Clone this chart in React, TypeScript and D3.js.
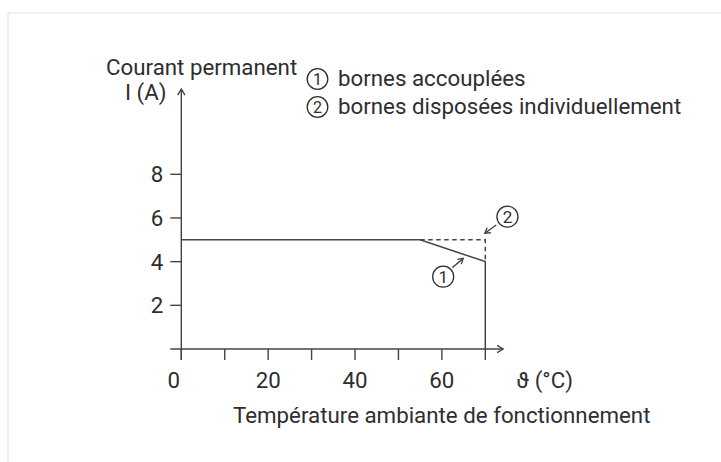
import React from "react";
import * as d3 from "d3";

// ---- data ----
const solidTemps = [0, 55, 70, 70];
const solidCurrents = [5, 5, 4, 0];
const dashedTemps = [55, 70, 70];
const dashedCurrents = [5, 5, 4];
const xMajorTicks = [0, 20, 40, 60];
const xMinorTicks = [10, 30, 50, 70];
const yTicks = [2, 4, 6, 8];
const yAxisTitle = ["Courant permanent", "I (A)"];
const xUnitLabel = "ϑ (°C)";
const xAxisTitle = "Température ambiante de fonctionnement";
const legendNumbers = ["1", "2"];
const legendLabels = ["bornes accouplées", "bornes disposées individuellement"];
// annotation: circle position and arrow from -> to (data units)
const annotNumbers = ["1", "2"];
const annotCircle = [[60.3, 3.31], [75.1, 6.06]];
const annotArrowFrom = [[62.4, 3.72], [72.5, 5.68]];
const annotArrowTo = [[64.9, 4.15], [69.9, 5.3]];

const W = 721;
const H = 462;
const FONT = "Roboto, 'Liberation Sans', Arial, sans-serif";
const TXT = "#2e2e2e";
const LN = "#444";
const FS = 22.3;

export default function App() {
  const x = d3.scaleLinear().domain([0, 70]).range([181.3, 485.3]);
  const y = d3.scaleLinear().domain([0, 8]).range([349, 174.3]);

  const line = d3
    .line<[number, number]>()
    .x((d) => x(d[0]))
    .y((d) => y(d[1]));

  const solid = solidTemps.map((t, i) => [t, solidCurrents[i]] as [number, number]);
  const dashed = dashedTemps.map((t, i) => [t, dashedCurrents[i]] as [number, number]);

  const x0 = x(0);
  const y0 = y(0);
  const xAxisEnd = x(74.1);
  const yAxisEnd = y(11.9);

  const chevron = (tx: number, ty: number, angle: number, size = 7) => {
    const a1 = angle + Math.PI - 0.55;
    const a2 = angle + Math.PI + 0.55;
    return `M${tx + size * Math.cos(a1)},${ty + size * Math.sin(a1)}L${tx},${ty}L${tx + size * Math.cos(a2)},${ty + size * Math.sin(a2)}`;
  };

  return (
    <svg
      width={W}
      height={H}
      style={{ position: "absolute", left: 0, top: 0, background: "#fff" }}
      fontFamily={FONT}
    >
      <rect x={8} y={13} width={740} height={470} fill="#fff" stroke="#ececec" strokeWidth={1.5} />

      {/* axes */}
      <line x1={x0 - 11} y1={y0} x2={xAxisEnd} y2={y0} stroke={LN} strokeWidth={1.4} />
      <path d={chevron(xAxisEnd, y0, 0)} fill="none" stroke={LN} strokeWidth={1.4} />
      <line x1={x0} y1={y0 + 11} x2={x0} y2={yAxisEnd} stroke={LN} strokeWidth={1.4} />
      <path d={chevron(x0, yAxisEnd, -Math.PI / 2)} fill="none" stroke={LN} strokeWidth={1.4} />

      {/* x ticks */}
      {[...xMajorTicks, ...xMinorTicks].map((t) => (
        <line key={"xt" + t} x1={x(t)} x2={x(t)} y1={y0} y2={y0 + 11} stroke={LN} strokeWidth={1.4} />
      ))}
      {xMajorTicks.map((t) => (
        <text
          key={"xl" + t}
          x={t === 0 ? x(t) - 7.5 : x(t)}
          y={388}
          textAnchor="middle"
          fontSize={FS}
          fill={TXT}
        >
          {t}
        </text>
      ))}
      <text x={x(0) + 335} y={388} fontSize={FS} fill={TXT}>
        {xUnitLabel}
      </text>

      {/* y ticks */}
      {yTicks.map((t) => (
        <g key={"yt" + t}>
          <line x1={x0 - 11} x2={x0} y1={y(t)} y2={y(t)} stroke={LN} strokeWidth={1.4} />
          <text x={x0 - 18} y={y(t) + 8} textAnchor="end" fontSize={FS} fill={TXT}>
            {t}
          </text>
        </g>
      ))}

      {/* axis titles */}
      <text x={106} y={75} fontSize={FS} fill={TXT}>
        {yAxisTitle[0]}
      </text>
      <text x={125} y={100} fontSize={FS} fill={TXT}>
        {yAxisTitle[1]}
      </text>
      <text x={233} y={423} fontSize={FS} fill={TXT}>
        {xAxisTitle}
      </text>

      {/* legend */}
      {legendLabels.map((lab, i) => {
        const base = 86 + i * 28;
        return (
          <g key={"lg" + i}>
            <circle cx={317.5} cy={base - 7} r={10.3} fill="none" stroke={TXT} strokeWidth={1.3} />
            <text x={317.5} y={base - 1.3} textAnchor="middle" fontSize={16} fill={TXT}>
              {legendNumbers[i]}
            </text>
            <text x={338} y={base} fontSize={FS} fill={TXT}>
              {lab}
            </text>
          </g>
        );
      })}

      {/* data lines */}
      <path d={line(dashed) || ""} fill="none" stroke={LN} strokeWidth={1.5} strokeDasharray="4.5,3.5" />
      <path d={line(solid) || ""} fill="none" stroke={LN} strokeWidth={1.5} />

      {/* annotations */}
      {annotNumbers.map((n, i) => {
        const cx = x(annotCircle[i][0]);
        const cy = y(annotCircle[i][1]);
        const fx = x(annotArrowFrom[i][0]);
        const fy = y(annotArrowFrom[i][1]);
        const tx = x(annotArrowTo[i][0]);
        const ty = y(annotArrowTo[i][1]);
        const ang = Math.atan2(ty - fy, tx - fx);
        return (
          <g key={"an" + i}>
            <circle cx={cx} cy={cy} r={10.5} fill="none" stroke={TXT} strokeWidth={1.3} />
            <text x={cx} y={cy + 6} textAnchor="middle" fontSize={17} fill={TXT}>
              {n}
            </text>
            <line x1={fx} y1={fy} x2={tx} y2={ty} stroke={LN} strokeWidth={1.4} />
            <path d={chevron(tx, ty, ang, 6)} fill="none" stroke={LN} strokeWidth={1.4} />
          </g>
        );
      })}
    </svg>
  );
}
